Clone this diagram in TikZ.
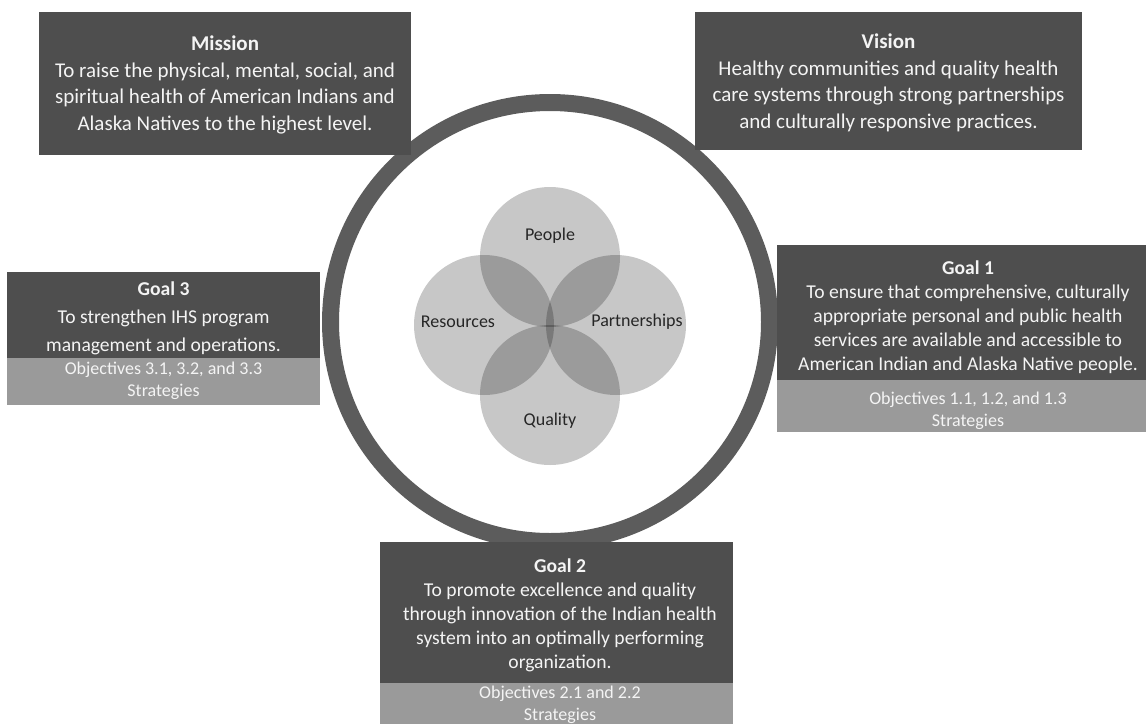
\documentclass[tikz,border=0pt]{standalone}
\usepackage{fontspec}
\setmainfont{Carlito}
\definecolor{boxdark}{HTML}{4E4E4E}
\definecolor{boxlight}{HTML}{9A9A9A}
\definecolor{ringgray}{HTML}{5C5C5C}
\definecolor{txtlight}{HTML}{F4F4F4}
\definecolor{venntxt}{HTML}{262626}
\tikzset{
  darkbox/.style={fill=boxdark, draw=none, inner sep=0pt},
  lightbox/.style={fill=boxlight, draw=none, inner sep=0pt},
  bigtext/.style={text=txtlight, align=center, inner sep=0pt, font=\fontsize{21}{26.5}\selectfont},
  goaltext/.style={text=txtlight, align=center, inner sep=0pt, font=\fontsize{19.6}{24}\selectfont},
  objtext/.style={text=txtlight, align=center, inner sep=0pt, font=\fontsize{18}{22}\selectfont},
  venncirc/.style={circle, fill=black, fill opacity=0.22, draw=none, minimum size=140pt, inner sep=0pt},
  vennlabel/.style={text=venntxt, inner sep=0pt, font=\fontsize{18}{22}\selectfont},
  ringstyle/.style={draw=ringgray, line width=17pt}
}
\begin{document}
\begin{tikzpicture}[x=1pt,y=-1pt]
\useasboundingbox (0,0) rectangle (1146,723);
\clip (0,0) rectangle (1146,723);
% ring
\coordinate (rc) at (550,322);
\draw[ringstyle] (rc) circle[radius=219.5];
% venn
\node[venncirc] (people) at (550,257) {};
\node[venncirc] (resources) at (484,325) {};
\node[venncirc] (partner) at (616,325) {};
\node[venncirc] (quality) at (550,395) {};
\node[vennlabel] (lpeople) at (550,236) {People};
\node[vennlabel] (lres) at (458,322) {Resources};
\node[vennlabel] (lpart) at (637,322) {Partnerships};
\node[vennlabel] (lqual) at (550,421) {Quality};
% mission & vision
\node[darkbox, minimum width=372pt, minimum height=143pt] (mission) at (225,83.5) {};
\node[bigtext] (missiontxt) at (225,85)
  {\textbf{Mission}\\To raise the physical, mental, social, and\\spiritual health of American Indians and\\Alaska Natives to the highest level.};
\node[darkbox, minimum width=387pt, minimum height=138pt] (vision) at (888.5,81) {};
\node[bigtext] (visiontxt) at (888.5,83)
  {\textbf{Vision}\\Healthy communities and quality health\\care systems through strong partnerships\\and culturally responsive practices.};
% goal 3
\node[darkbox, minimum width=313pt, minimum height=86pt] (goal3) at (163.5,315) {};
\node[goaltext, font=\fontsize{19.6}{28}\selectfont] (goal3txt) at (163.5,318.5)
  {\textbf{Goal 3}\\To strengthen IHS program\\management and operations.};
\node[lightbox, minimum width=313pt, minimum height=47pt, anchor=north] (obj3) at (goal3.south) {};
\node[objtext] (obj3txt) at (163.5,380.5) {Objectives 3.1, 3.2, and 3.3\\Strategies};
% goal 1
\node[darkbox, minimum width=382pt, minimum height=135pt] (goal1) at (968,312.5) {};
\node[goaltext] (goal1txt) at (968,317.5)
  {\textbf{Goal 1}\\To ensure that comprehensive, culturally\\appropriate personal and public health\\services are available and accessible to\\American Indian and Alaska Native people.};
\node[lightbox, minimum width=382pt, minimum height=52pt, anchor=north] (obj1) at (goal1.south) {};
\node[objtext] (obj1txt) at (968,411) {Objectives 1.1, 1.2, and 1.3\\Strategies};
% goal 2
\node[darkbox, minimum width=353pt, minimum height=141pt] (goal2) at (556.5,612.5) {};
\node[goaltext] (goal2txt) at (560,615)
  {\textbf{Goal 2}\\To promote excellence and quality\\through innovation of the Indian health\\system into an optimally performing\\organization.};
\node[lightbox, minimum width=353pt, minimum height=46pt, anchor=north] (obj2) at (goal2.south) {};
\node[objtext] (obj2txt) at (560,705) {Objectives 2.1 and 2.2\\Strategies};
\end{tikzpicture}
\end{document}
